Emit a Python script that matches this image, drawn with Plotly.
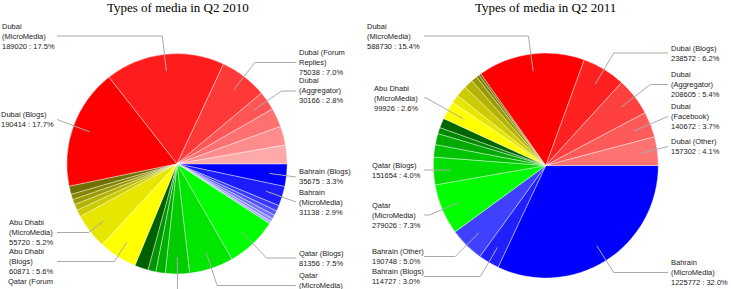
import math
import plotly.graph_objects as go

W, H = 731, 289

# ---------------- data: Q2 2010 (slices listed clockwise from 3 o'clock) ----------------
labels_2010 = [
    "Bahrain (Blogs)", "Bahrain (MicroMedia)", "Bahrain (other 1)", "Bahrain (other 2)",
    "Bahrain (other 3)", "Bahrain (other 4)", "Bahrain (other 5)",
    "Qatar (Blogs)", "Qatar (MicroMedia)", "Qatar (Forum Replies)", "Qatar (other 1)",
    "Qatar (other 2)", "Qatar (other 3)",
    "Abu Dhabi (Blogs)", "Abu Dhabi (MicroMedia)", "Abu Dhabi (other 1)", "Abu Dhabi (other 2)",
    "Abu Dhabi (other 3)", "Abu Dhabi (other 4)", "Abu Dhabi (other 5)",
    "Dubai (Blogs)", "Dubai (MicroMedia)", "Dubai (Forum Replies)", "Dubai (Aggregator)",
    "Dubai (other 1)", "Dubai (other 2)", "Dubai (other 3)",
]
values_2010 = [
    35675, 31138, 9000, 7500, 6200, 5000, 4000,
    81356, 70000, 38000, 15000, 12500, 21500,
    60871, 55720, 11000, 9500, 8500, 8500, 13000,
    190414, 189020, 75038, 30166, 30000, 30000, 29400,
]
colors_2010 = [
    "#0000ff", "#1c1cff", "#3838ff", "#5555ff", "#7171ff", "#8d8dff", "#aaaaff",
    "#00ff00", "#00e600", "#00cc00", "#00b000", "#009400", "#006000",
    "#ffff00", "#e6e600", "#cccc00", "#b3b300", "#999900", "#858500", "#707000",
    "#ff0000", "#ff1c1c", "#ff3838", "#ff5555", "#ff7171", "#ff8d8d", "#ffaaaa",
]

# ---------------- data: Q2 2011 ----------------
labels_2011 = [
    "Bahrain (MicroMedia)", "Bahrain (Blogs)", "Bahrain (Other)",
    "Qatar (MicroMedia)", "Qatar (Blogs)", "Qatar (other 1)", "Qatar (other 2)",
    "Qatar (other 3)", "Qatar (other 4)",
    "Abu Dhabi (MicroMedia)", "Abu Dhabi (other 1)", "Abu Dhabi (other 2)", "Abu Dhabi (other 3)",
    "Abu Dhabi (other 4)", "Abu Dhabi (other 5)", "Abu Dhabi (other 6)",
    "Dubai (MicroMedia)", "Dubai (Blogs)", "Dubai (Aggregator)", "Dubai (Facebook)", "Dubai (Other)",
]
values_2011 = [
    1225772, 114727, 190748,
    279026, 151654, 69000, 61000, 34000, 54000,
    99926, 46000, 61000, 50000, 33000, 17000, 12000,
    588730, 238572, 208605, 140672, 157302,
]
colors_2011 = [
    "#0000ff", "#2020ff", "#4040ff",
    "#00ff00", "#00e000", "#00c400", "#00aa00", "#008800", "#006600",
    "#ffff00", "#e6e600", "#cccc00", "#b3b300", "#999900", "#808000", "#6b6b00",
    "#ff0000", "#ff2020", "#ff4040", "#ff5a5a", "#ff7272",
]

# ---------------- layout (pixel positions of pies and callout labels) ----------------
pies = [
    dict(title="Types of media in Q2 2010", labels=labels_2010, values=values_2010,
         colors=colors_2010, cx=177.0, cy=163.8, R=110.2, left_end=57, title_x=178,
         callouts={
             "Dubai (MicroMedia)": (1, 36),
             "Dubai (Blogs)": (0, 119.5),
             "Dubai (Forum Replies)": (298, 62.5),
             "Dubai (Aggregator)": (298, 91),
             "Bahrain (Blogs)": (298, 177),
             "Bahrain (MicroMedia)": (298, 202),
             "Qatar (Blogs)": (298, 258),
             "Qatar (MicroMedia)": (298, 285.5),
             "Qatar (Forum Replies)": (7, 291),
             "Abu Dhabi (MicroMedia)": (8, 232.5),
             "Abu Dhabi (Blogs)": (8, 261.5),
         }),
    dict(title="Types of media in Q2 2011", labels=labels_2011, values=values_2011,
         colors=colors_2011, cx=545.8, cy=165.5, R=112.5, left_end=424, title_x=545,
         callouts={
             "Dubai (MicroMedia)": (366.5, 36),
             "Dubai (Blogs)": (670, 53),
             "Dubai (Aggregator)": (670, 84.5),
             "Dubai (Facebook)": (670, 116.5),
             "Dubai (Other)": (670, 146.5),
             "Abu Dhabi (MicroMedia)": (374, 98),
             "Qatar (Blogs)": (371.5, 170),
             "Qatar (MicroMedia)": (371.5, 215),
             "Bahrain (Other)": (371.5, 256.5),
             "Bahrain (Blogs)": (371.5, 276.5),
             "Bahrain (MicroMedia)": (670, 272.5),
         }),
]

LABEL_FONT = dict(family="Liberation Sans, Arial, sans-serif", size=7.5, color="#222222")
TITLE_FONT = dict(family="Liberation Serif, Times New Roman, serif", size=13, color="#000000")
LEADER = dict(color="#aaaaaa", width=1)


def wrap(name, width=15):
    words = name.split(" ")
    lines, cur = [], ""
    for w in words:
        cand = w if not cur else cur + " " + w
        if len(cand) <= width or not cur:
            cur = cand
        else:
            lines.append(cur)
            cur = w
    lines.append(cur)
    return lines


def px(x, y):
    return x / W, 1 - y / H


fig = go.Figure()
shapes, annotations = [], []

for p in pies:
    cx, cy, R = p["cx"], p["cy"], p["R"]
    fig.add_trace(go.Pie(
        labels=p["labels"], values=p["values"], sort=False, direction="clockwise",
        rotation=90, textinfo="none", showlegend=False,
        hoverinfo="label+value+percent",
        marker=dict(colors=p["colors"], line=dict(color="rgba(255,255,255,0.5)", width=0.8)),
        domain=dict(x=[(cx - R) / W, (cx + R) / W], y=[1 - (cy + R) / H, 1 - (cy - R) / H]),
    ))
    tx, ty = px(p["title_x"], 7)
    annotations.append(dict(text=p["title"], x=tx, y=ty, xref="paper", yref="paper",
                            xanchor="center", yanchor="middle", showarrow=False, font=TITLE_FONT))

    total = float(sum(p["values"]))
    cum = 0.0
    for lab, v in zip(p["labels"], p["values"]):
        mid = (cum + v / 2.0) / total * 360.0
        cum += v
        if lab not in p["callouts"]:
            continue
        lx, ly = p["callouts"][lab]
        th = math.radians(mid)
        c, s = math.cos(th), math.sin(th)
        pxp, pyp = cx + 0.845 * R * c, cy + 0.845 * R * s
        right = lx > cx
        end_x = lx - 2 if right else p["left_end"]
        if abs(s) > 1e-6 and (ly - pyp) / s > 0:
            t = (ly - pyp) / s
            ex = pxp + t * c
            ex = min(ex, end_x) if right else max(ex, end_x)
        else:
            ex = end_x
        pts = [px(pxp, pyp), px(ex, ly), px(end_x, ly)]
        path = "M {:.5f} {:.5f} L {:.5f} {:.5f} L {:.5f} {:.5f}".format(
            pts[0][0], pts[0][1], pts[1][0], pts[1][1], pts[2][0], pts[2][1])
        shapes.append(dict(type="path", path=path, xref="paper", yref="paper", line=LEADER))

        text = "<br>".join(wrap(lab) + ["{} : {:.1f}%".format(v, 100.0 * v / total)])
        ax, ay = px(lx - 1.5, ly)
        annotations.append(dict(text=text, x=ax, y=ay, xref="paper", yref="paper",
                                xanchor="left", yanchor="middle", align="left",
                                showarrow=False, font=LABEL_FONT))

fig.update_layout(
    width=W, height=H, margin=dict(l=0, r=0, t=0, b=0),
    paper_bgcolor="#ffffff", plot_bgcolor="#ffffff",
    shapes=shapes, annotations=annotations,
)

fig.write_html("out.html", config={"displayModeBar": False},
               post_script="document.body.style.margin='0px';document.body.style.overflow='hidden';")
